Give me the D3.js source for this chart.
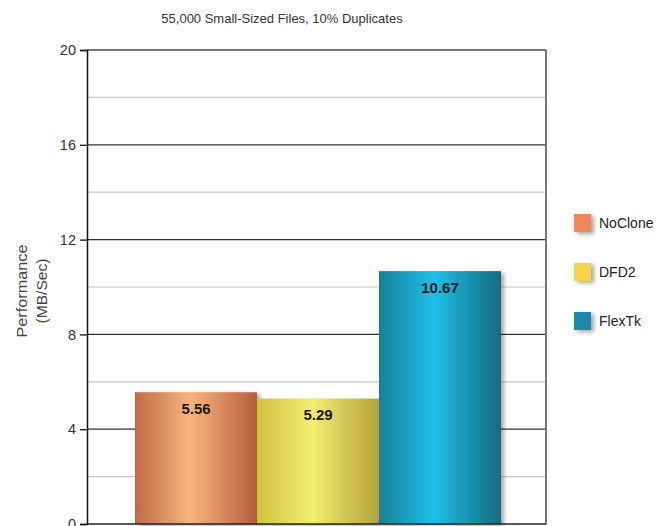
<!DOCTYPE html>
<html><head><meta charset="utf-8">
<script src="https://cdn.jsdelivr.net/npm/d3@7"></script>
<style>body{margin:0;background:#fff}svg{display:block}</style>
</head><body>
<svg id="chart" width="662" height="526"></svg>
<script>
const title = "55,000 Small-Sized Files, 10% Duplicates";
const series = ["NoClone", "DFD2", "FlexTk"];
const values = [5.56, 5.29, 10.67];
const labels = ["5.56", "5.29", "10.67"];
const yTicks = [0, 4, 8, 12, 16, 20];
const yMinor = [2, 6, 10, 14, 18];
const legendColors = ["#f4865c", "#f3d54c", "#1a8aa6"];
const gradStops = [
  ["#c06a45", "#f8b47c", "#b65d3c"],
  ["#cfc140", "#f1ee72", "#b4a23a"],
  ["#1a7f9b", "#1fbfe8", "#146a80"]
];

const svg = d3.select("#chart");
const L = 87, R = 546, T = 50, B = 524;
const FONT = "Liberation Sans, Arial, sans-serif";
const y = d3.scaleLinear().domain([0, 20]).range([B, T]);
const x = d3.scaleBand().domain(series).range([135, 501]).padding(0);

const defs = svg.append("defs");
gradStops.forEach((s, i) => {
  const g = defs.append("linearGradient").attr("id", "g" + i).attr("x1", 0).attr("x2", 1).attr("y1", 0).attr("y2", 0);
  g.append("stop").attr("offset", "0%").attr("stop-color", s[0]);
  g.append("stop").attr("offset", "45%").attr("stop-color", s[1]);
  g.append("stop").attr("offset", "100%").attr("stop-color", s[2]);
});
const f = defs.append("filter").attr("id", "sh").attr("x", "-20%").attr("y", "-20%").attr("width", "150%").attr("height", "150%");
f.append("feDropShadow").attr("dx", 3).attr("dy", 2).attr("stdDeviation", 2).attr("flood-color", "#000").attr("flood-opacity", 0.35);

// title
svg.append("text").attr("x", 282).attr("y", 23).attr("text-anchor", "middle")
  .attr("font-family", FONT).attr("font-size", 13).attr("fill", "#333").text(title);

// minor gridlines
svg.append("g").selectAll("line").data(yMinor).join("line")
  .attr("x1", L).attr("x2", R).attr("y1", d => y(d)).attr("y2", d => y(d))
  .attr("stroke", "#c8c8c8").attr("stroke-width", 1.2);
// major gridlines
svg.append("g").selectAll("line").data(yTicks.filter(d => d > 0 && d < 20)).join("line")
  .attr("x1", L).attr("x2", R).attr("y1", d => y(d)).attr("y2", d => y(d))
  .attr("stroke", "#333").attr("stroke-width", 1.3);

// frame top and right
svg.append("line").attr("x1", L).attr("x2", R).attr("y1", y(20)).attr("y2", y(20)).attr("stroke", "#777").attr("stroke-width", 2);
svg.append("line").attr("x1", R).attr("x2", R).attr("y1", y(20)).attr("y2", B).attr("stroke", "#777").attr("stroke-width", 2);

// bars
svg.append("g").selectAll("rect").data(values).join("rect")
  .attr("x", (d, i) => x(series[i])).attr("width", x.bandwidth())
  .attr("y", d => y(d)).attr("height", d => B - y(d))
  .attr("fill", (d, i) => `url(#g${i})`).attr("filter", "url(#sh)");

// value labels
svg.append("g").selectAll("text").data(values).join("text")
  .attr("x", (d, i) => x(series[i]) + x.bandwidth() / 2).attr("y", d => y(d) + 21.5)
  .attr("text-anchor", "middle").attr("font-family", FONT)
  .attr("font-weight", "bold").attr("font-size", 15).attr("fill", "#1a1a1a")
  .text((d, i) => labels[i]);

// y axis
const ax = svg.append("g").attr("transform", `translate(${L},0)`)
  .call(d3.axisLeft(y).tickValues(yTicks).tickSize(7).tickPadding(4).tickFormat(d3.format("d")));
ax.select(".domain").attr("stroke", "#111").attr("stroke-width", 1.5);
ax.selectAll(".tick line").attr("stroke", "#111").attr("stroke-width", 1.3);
ax.selectAll(".tick text").attr("font-family", FONT).attr("font-size", 14.5).attr("fill", "#333");

// bottom axis line
svg.append("line").attr("x1", L).attr("x2", R).attr("y1", B).attr("y2", B).attr("stroke", "#222").attr("stroke-width", 1.5);

// y axis title
const yt = svg.append("text").attr("transform", "translate(27,291) rotate(-90)")
  .attr("text-anchor", "middle").attr("font-family", FONT)
  .attr("font-size", 15).attr("fill", "#444");
yt.append("tspan").attr("x", 0).attr("dy", 0).attr("textLength", 93).attr("lengthAdjust", "spacingAndGlyphs").text("Performance");
yt.append("tspan").attr("x", 0).attr("dy", 20).attr("textLength", 65).attr("lengthAdjust", "spacingAndGlyphs").text("(MB/Sec)");

// legend
const lg = svg.append("g").selectAll("g").data(series).join("g")
  .attr("transform", (d, i) => `translate(574,${214 + i * 49})`);
lg.append("rect").attr("width", 17).attr("height", 18).attr("fill", (d, i) => legendColors[i]).attr("filter", "url(#sh)");
lg.append("text").attr("x", 25).attr("y", 14).attr("font-family", FONT)
  .attr("font-size", 14).attr("fill", "#222").text(d => d);
</script>
</body></html>
